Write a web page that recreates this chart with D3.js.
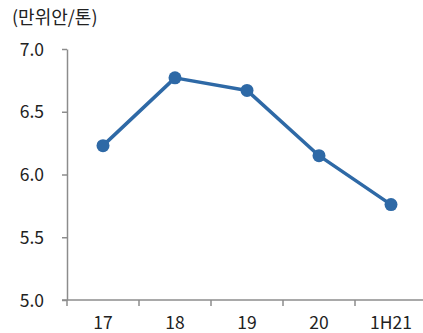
<!DOCTYPE html>
<html>
<head>
<meta charset="utf-8">
<script src="https://cdn.jsdelivr.net/npm/d3@7"></script>
<style>
  html, body { margin: 0; padding: 0; background: #fff; }
  svg { display: block; }
  text { font-family: "Noto Sans CJK KR", "Noto Sans", sans-serif; fill: #222; }
</style>
</head>
<body>
<svg id="chart" width="423" height="333"></svg>
<script>
// Annual price (10k CNY per tonne)
const periods = ["17", "18", "19", "20", "1H21"];
const prices = [6.23, 6.77, 6.67, 6.15, 5.76];
const yTicks = [5.0, 5.5, 6.0, 6.5, 7.0];
const unitLabel = "(만위안/톤)";

const svg = d3.select("#chart");
const axisColor = "#8c8c8c";
const lineColor = "#2e69a6";
const fontSize = 17.5;

const x = d3.scaleBand().domain(periods).range([67, 427]);
const y = d3.scaleLinear().domain([5.0, 7.0]).range([300, 49]);

// y axis
const yAxis = svg.append("g")
  .attr("transform", "translate(67,0)")
  .call(d3.axisLeft(y).tickValues(yTicks).tickFormat(d3.format(".1f")).tickSize(5).tickSizeOuter(0));
yAxis.select(".domain").attr("stroke", axisColor).attr("stroke-width", 1.5);
yAxis.selectAll(".tick line").attr("stroke", axisColor).attr("stroke-width", 1.5);
yAxis.selectAll(".tick text")
  .attr("x", -23)
  .attr("dy", "0.35em")
  .attr("font-size", fontSize)
  .style("font-family", '"Noto Sans CJK KR", sans-serif')
  .attr("fill", "#222");

// x axis with ticks on band boundaries
const xAxisG = svg.append("g").attr("transform", "translate(0,300)");
xAxisG.append("line")
  .attr("x1", 62).attr("x2", 427).attr("y1", 0).attr("y2", 0)
  .attr("stroke", axisColor).attr("stroke-width", 1.5);
xAxisG.selectAll("line.bnd")
  .data(periods)
  .join("line")
  .attr("class", "bnd")
  .attr("x1", d => x(d)).attr("x2", d => x(d))
  .attr("y1", 0).attr("y2", 6)
  .attr("stroke", axisColor).attr("stroke-width", 1.5);
xAxisG.selectAll("text")
  .data(periods)
  .join("text")
  .attr("x", d => x(d) + x.bandwidth() / 2)
  .attr("y", 29)
  .attr("text-anchor", "middle")
  .attr("font-size", fontSize)
  .text(d => d);

// unit label
svg.append("text")
  .attr("x", 12).attr("y", 24)
  .attr("font-size", 18)
  .text(unitLabel);

// line and markers
const cx = (d, i) => x(periods[i]) + x.bandwidth() / 2;
const line = d3.line().x(cx).y(d => y(d));
svg.append("path")
  .datum(prices)
  .attr("d", line)
  .attr("fill", "none")
  .attr("stroke", lineColor)
  .attr("stroke-width", 3.5)
  .attr("stroke-linejoin", "round");
svg.selectAll("circle")
  .data(prices)
  .join("circle")
  .attr("cx", cx)
  .attr("cy", d => y(d))
  .attr("r", 6.5)
  .attr("fill", lineColor);
</script>
</body>
</html>
